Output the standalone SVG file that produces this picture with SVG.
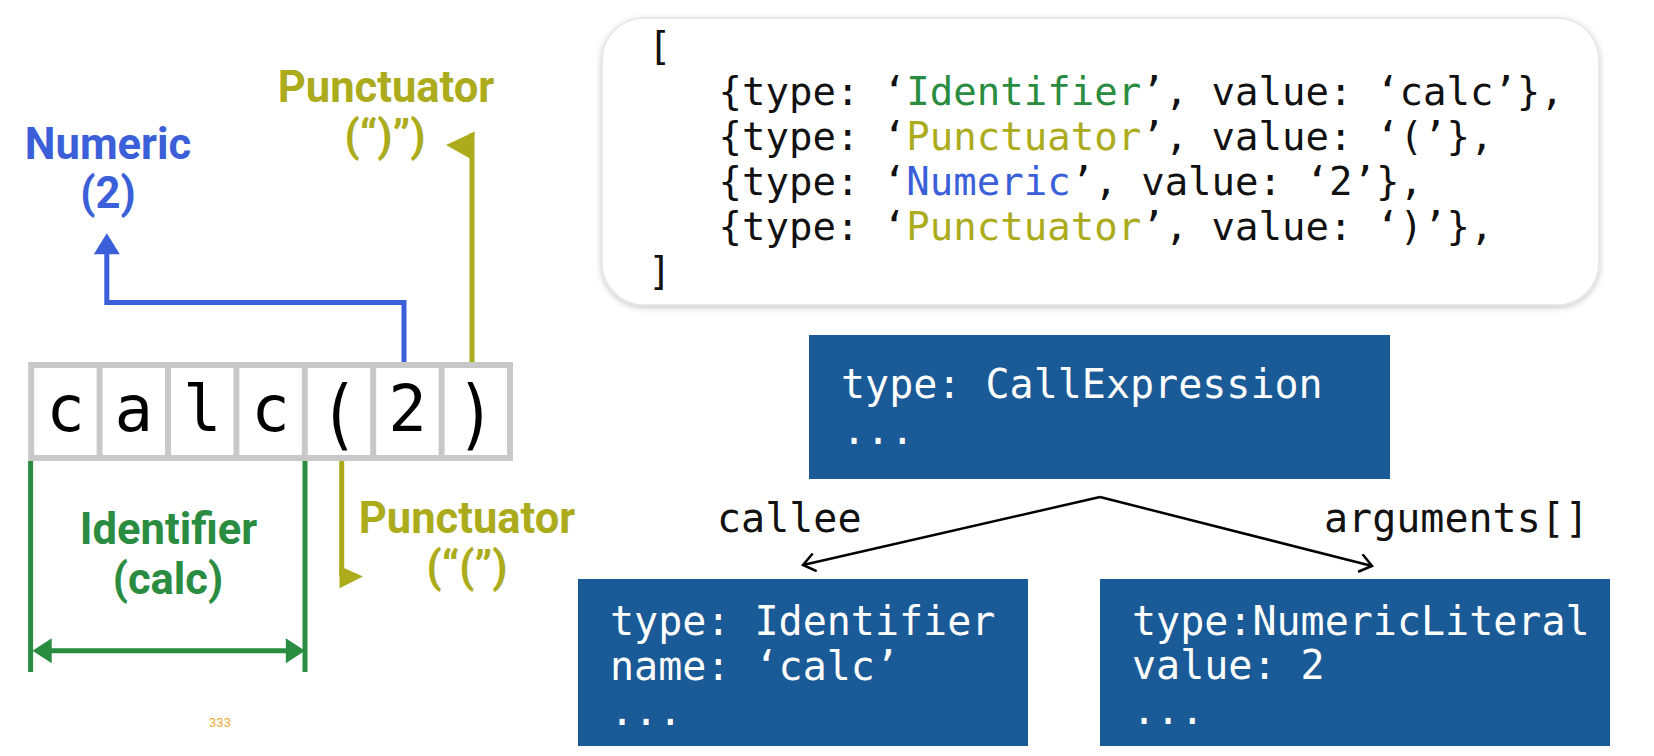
<svg xmlns="http://www.w3.org/2000/svg" width="1654" height="756" viewBox="0 0 1654 756">
  <style>
    .lbl { font-family: Roboto, "Liberation Sans", sans-serif; font-weight: 700; font-size: 43.5px; text-anchor: middle; }
    .blue { fill: #3b5fd9; }
    .olive { fill: #abab1c; }
    .green { fill: #2a8c40; }
    .mono { font-family: "DejaVu Sans Mono", "Liberation Mono", monospace; font-size: 39px; }
    .mono40 { font-family: "DejaVu Sans Mono", "Liberation Mono", monospace; font-size: 40px; }
    .code { fill: #111111; }
    .node rect { fill: #1a5a97; }
    .node text { fill: #ffffff; }
    .cell { font-family: "DejaVu Sans Mono", "Liberation Mono", monospace; font-size: 64px; text-anchor: middle; fill: #000000; }
    .edge { stroke: #000000; stroke-width: 2.5; fill: none; }
  </style>
  <defs>
    <marker id="open" viewBox="0 0 20 20" refX="18" refY="10" markerWidth="20" markerHeight="20" markerUnits="userSpaceOnUse" orient="auto">
      <path d="M6,1 L18,10 L6,19" fill="none" stroke="#000000" stroke-width="2.5" stroke-linejoin="miter"/>
    </marker>
    <filter id="shadow" x="-5%" y="-10%" width="110%" height="125%">
      <feDropShadow dx="0" dy="2" stdDeviation="3" flood-color="#000000" flood-opacity="0.22"/>
    </filter>
  </defs>

  <!-- token strip: c a l c ( 2 ) -->
  <g id="token-strip">
    <rect x="31.2" y="365" width="478.8" height="93" fill="#ffffff" stroke="#c8c8c8" stroke-width="6"/>
    <g stroke="#c8c8c8" stroke-width="6">
      <line x1="99.6" y1="365" x2="99.6" y2="458"/>
      <line x1="168" y1="365" x2="168" y2="458"/>
      <line x1="236.4" y1="365" x2="236.4" y2="458"/>
      <line x1="304.8" y1="365" x2="304.8" y2="458"/>
      <line x1="373.2" y1="365" x2="373.2" y2="458"/>
      <line x1="441.6" y1="365" x2="441.6" y2="458"/>
    </g>
    <text class="cell" x="65.4" y="431">c</text>
    <text class="cell" x="133.8" y="431">a</text>
    <text class="cell" x="202.2" y="431">l</text>
    <text class="cell" x="270.6" y="431">c</text>
    <text class="cell" transform="translate(339,440) scale(1,1.2)">(</text>
    <text class="cell" x="407.4" y="431">2</text>
    <text class="cell" transform="translate(475.8,440) scale(1,1.2)">)</text>
  </g>

  <!-- token pointers -->
  <g id="token-pointers">
    <polyline points="404,362 404,302.5 106.8,302.5 106.8,250" fill="none" stroke="#3b5fd9" stroke-width="5"/>
    <polygon points="106.8,233.3 93.8,254.3 119.8,254.3" fill="#3b5fd9"/>
    <line x1="472" y1="362" x2="472" y2="133" stroke="#abab1c" stroke-width="5"/>
    <polygon points="446,145 475,131.5 470,158.5" fill="#abab1c"/>
    <line x1="341.7" y1="461" x2="341.7" y2="576" stroke="#abab1c" stroke-width="5"/>
    <polygon points="339.5,566 363,576.5 339.5,588.3" fill="#abab1c"/>
    <line x1="30.6" y1="461" x2="30.6" y2="672" stroke="#2a8c40" stroke-width="5"/>
    <line x1="305" y1="461" x2="305" y2="672" stroke="#2a8c40" stroke-width="5"/>
    <line x1="45" y1="650.7" x2="292" y2="650.7" stroke="#2a8c40" stroke-width="5"/>
    <polygon points="32.5,650.7 51.7,638.3 51.7,663.3" fill="#2a8c40"/>
    <polygon points="305,650.7 285.8,638.3 285.8,663.3" fill="#2a8c40"/>
  </g>

  <!-- token labels -->
  <g id="label-numeric">
    <text class="lbl blue" x="108" y="159">Numeric</text>
    <text class="lbl blue" x="108" y="208">(2)</text>
  </g>
  <g id="label-punct-close">
    <text class="lbl olive" x="386" y="102">Punctuator</text>
    <text class="lbl olive" x="385" y="151">(“)”)</text>
  </g>
  <g id="label-identifier">
    <text class="lbl green" x="168.5" y="544">Identifier</text>
    <text class="lbl green" x="168" y="594">(calc)</text>
  </g>
  <g id="label-punct-open">
    <text class="lbl olive" x="467" y="533">Punctuator</text>
    <text class="lbl olive" x="467" y="582">(“(”)</text>
  </g>
  <text x="220" y="727" font-family="Roboto, 'Liberation Sans', sans-serif" font-size="13" fill="#f2a93b" text-anchor="middle">333</text>

  <!-- token list -->
  <g id="token-list">
    <rect x="602" y="18" width="997" height="287" rx="42" ry="42" fill="#ffffff" stroke="#e4e4e4" stroke-width="1.5" filter="url(#shadow)"/>
    <text class="mono code" x="648" y="60">[</text>
    <text class="mono code" x="718.5" y="105">{type: ‘<tspan class="green">Identifier</tspan>’, value: ‘calc’},</text>
    <text class="mono code" x="718.5" y="150">{type: ‘<tspan class="olive">Punctuator</tspan>’, value: ‘(’},</text>
    <text class="mono code" x="718.5" y="195">{type: ‘<tspan class="blue">Numeric</tspan>’, value: ‘2’},</text>
    <text class="mono code" x="718.5" y="240">{type: ‘<tspan class="olive">Punctuator</tspan>’, value: ‘)’},</text>
    <text class="mono code" x="648" y="285">]</text>
  </g>

  <!-- AST nodes -->
  <g id="node-call" class="node">
    <rect x="809" y="335" width="581" height="144"/>
    <text class="mono40" x="841" y="398">type: CallExpression</text>
    <text class="mono40" x="842" y="444">...</text>
  </g>
  <g id="node-identifier" class="node">
    <rect x="578" y="579" width="450" height="167"/>
    <text class="mono40" x="610" y="635">type: Identifier</text>
    <text class="mono40" x="610" y="680">name: ‘calc’</text>
    <text class="mono40" x="610" y="725">...</text>
  </g>
  <g id="node-numeric" class="node">
    <rect x="1100" y="579" width="510" height="167"/>
    <text class="mono40" x="1132" y="635">type:NumericLiteral</text>
    <text class="mono40" x="1132" y="679">value: 2</text>
    <text class="mono40" x="1132" y="724">...</text>
  </g>

  <!-- AST edges -->
  <g id="connectors">
    <line class="edge" x1="1100" y1="497" x2="803" y2="565" marker-end="url(#open)"/>
    <line class="edge" x1="1100" y1="497" x2="1372" y2="566" marker-end="url(#open)"/>
    <text class="mono40 code" x="717" y="532">callee</text>
    <text class="mono40 code" x="1324" y="532">arguments[]</text>
  </g>
</svg>
